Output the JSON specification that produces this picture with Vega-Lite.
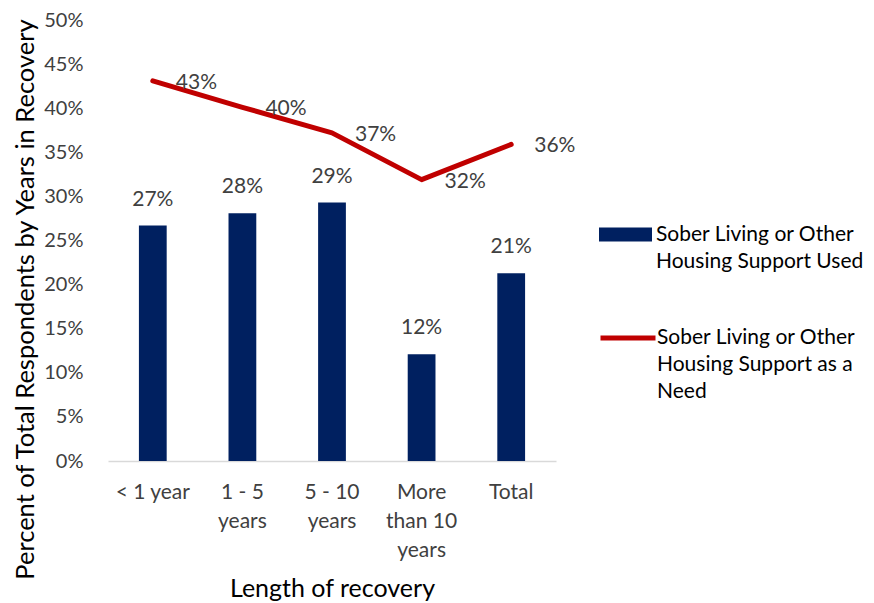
{
  "$schema": "https://vega.github.io/schema/vega-lite/v6.json",
  "width": 448,
  "height": 441,
  "autosize": {"type": "none"},
  "padding": {"left": 108, "top": 20, "right": 318, "bottom": 142},
  "background": "white",
  "config": {
    "view": {"stroke": null},
    "font": "Lato",
    "style": {"guide-label": {"lineHeight": 27}},
    "axis": {"grid": false, "labelFont": "Lato", "titleFont": "Lato", "labelColor": "#404040", "titleColor": "#000000", "titleFontWeight": "normal"},
    "legend": {"labelFont": "Lato", "labelColor": "#000000"}
  },
  "data": {
    "values": [
      {"category": "< 1 year", "used": 0.267, "need": 0.431},
      {"category": "1 - 5 years", "used": 0.281, "need": 0.401},
      {"category": "5 - 10 years", "used": 0.293, "need": 0.372},
      {"category": "More than 10 years", "used": 0.121, "need": 0.319},
      {"category": "Total", "used": 0.213, "need": 0.359}
    ]
  },
  "encoding": {
    "x": {
      "field": "category",
      "type": "nominal",
      "sort": null,
      "scale": {"paddingInner": 0, "paddingOuter": 0},
      "axis": {
        "title": "Length of recovery",
        "titleFontSize": 25,
        "titlePadding": 16,
        "labelAngle": 0,
        "labelFontSize": 21,
        "labelPadding": 20,
        "labelBaseline": "top",
        "labelLineHeight": 29,
        "labelOverlap": false,
        "ticks": false,
        "domainColor": "#d9d9d9",
        "domainWidth": 1.5,
        "labelExpr": "datum.value == '1 - 5 years' ? ['1 - 5', 'years'] : datum.value == '5 - 10 years' ? ['5 - 10', 'years'] : datum.value == 'More than 10 years' ? ['More', 'than 10', 'years'] : datum.label"
      }
    }
  },
  "layer": [
    {
      "mark": {"type": "bar", "width": {"band": 0.31}},
      "encoding": {
        "y": {
          "field": "used",
          "type": "quantitative",
          "scale": {"domain": [0, 0.5]},
          "axis": {
            "title": "Percent of Total Respondents by Years in Recovery",
            "titleFontSize": 25.5,
            "titlePadding": 5,
            "titleY": 279,
            "format": ".0%",
            "values": [0, 0.05, 0.1, 0.15, 0.2, 0.25, 0.3, 0.35, 0.4, 0.45, 0.5],
            "labelFontSize": 20,
            "labelPadding": 25,
            "labelOverlap": false,
            "ticks": false,
            "domain": false
          }
        },
        "fill": {
          "datum": "Sober Living or Other Housing Support Used",
          "type": "nominal",
          "scale": {"range": ["#002060"]},
          "legend": {
            "title": null,
            "orient": "none",
            "legendX": 490,
            "legendY": 187,
            "symbolType": "M-1,-0.264H1V0.264H-1Z",
            "symbolSize": 2809,
            "labelFontSize": 21,
            "labelOffset": 3,
            "labelLimit": 300,
            "labelExpr": "['Sober Living or Other', 'Housing Support Used']"
          }
        }
      }
    },
    {
      "mark": {"type": "line", "strokeWidth": 5, "strokeCap": "round", "strokeJoin": "round"},
      "encoding": {
        "y": {"field": "need", "type": "quantitative"},
        "stroke": {
          "datum": "Sober Living or Other Housing Support as a Need",
          "type": "nominal",
          "scale": {"range": ["#C00000"]},
          "legend": {
            "title": null,
            "orient": "none",
            "legendX": 490,
            "legendY": 288,
            "symbolType": "stroke",
            "symbolSize": 3025,
            "symbolStrokeWidth": 5,
            "labelFontSize": 21,
            "labelOffset": -1,
            "labelLimit": 300,
            "labelExpr": "['Sober Living or Other', 'Housing Support as a', 'Need']"
          }
        }
      }
    },
    {
      "mark": {"type": "text", "fontSize": 21, "color": "#404040", "baseline": "middle", "dy": -26},
      "encoding": {
        "y": {"field": "used", "type": "quantitative"},
        "text": {"field": "used", "type": "quantitative", "format": ".0%"}
      }
    },
    {
      "mark": {"type": "text", "fontSize": 21, "color": "#404040", "align": "left", "baseline": "middle", "dx": 23, "dy": 2},
      "encoding": {
        "y": {"field": "need", "type": "quantitative"},
        "text": {"field": "need", "type": "quantitative", "format": ".0%"}
      }
    }
  ]
}
